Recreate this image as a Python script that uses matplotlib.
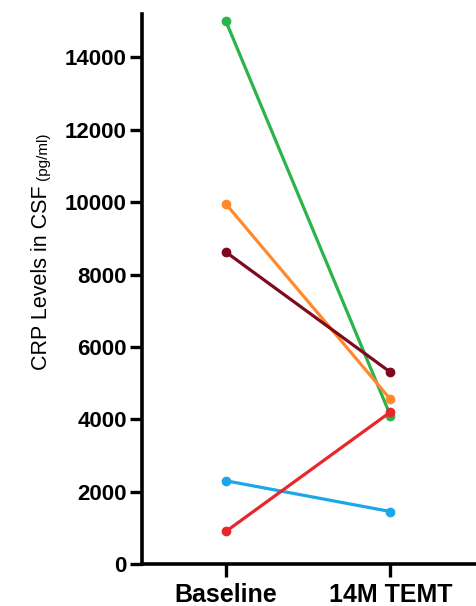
import matplotlib
matplotlib.use("Agg")
import matplotlib.pyplot as plt

plt.rcParams['font.family'] = ['Liberation Sans', 'DejaVu Sans']

timepoints = ["Baseline", "14M TEMT"]
baseline = [15000, 9950, 8620, 2300, 900]
followup = [4100, 4550, 5300, 1450, 4200]
colors = ["#2cb34a", "#ff8a2e", "#7d0a1e", "#1ea7e8", "#e8272d"]
yticks = [0, 2000, 4000, 6000, 8000, 10000, 12000, 14000]

W, H = 476, 606
fig = plt.figure(figsize=(W / 100, H / 100), dpi=100)
# axes box in pixel terms: left spine x=142, bottom y=564, top y=14
ax = fig.add_axes([142 / W, (H - 564) / H, (W - 142) / W, (564 - 14) / H])

for b, f, c in zip(baseline, followup, colors):
    ax.plot([0, 1], [b, f], color=c, lw=2.3, marker="o", ms=6,
            solid_capstyle="round", clip_on=False)

ax.set_xlim(-0.51, 1.52)
ax.set_ylim(0, 15200)
ax.set_xticks([0, 1])
ax.set_xticklabels(timepoints, fontsize=18, fontweight="bold")
ax.set_yticks(yticks)
ax.set_yticklabels([str(v) for v in yticks], fontsize=16, fontweight="bold")

for s in ["top", "right"]:
    ax.spines[s].set_visible(False)
for s in ["left", "bottom"]:
    ax.spines[s].set_linewidth(2.6)
ax.tick_params(axis="both", width=2.4, length=9, color="black")
ax.tick_params(axis="y", pad=2)
ax.tick_params(axis="x", pad=5)

# y label: main part plus smaller unit, stacked along the axis
fig.text(47 / W, (H - 370) / H, "CRP Levels in CSF", rotation=90,
         rotation_mode="anchor", ha="left", va="baseline", fontsize=15.5)
fig.text(47 / W, (H - 180) / H, "(pg/ml)", rotation=90,
         rotation_mode="anchor", ha="left", va="baseline", fontsize=11)

fig.savefig("out.png", dpi=100)
